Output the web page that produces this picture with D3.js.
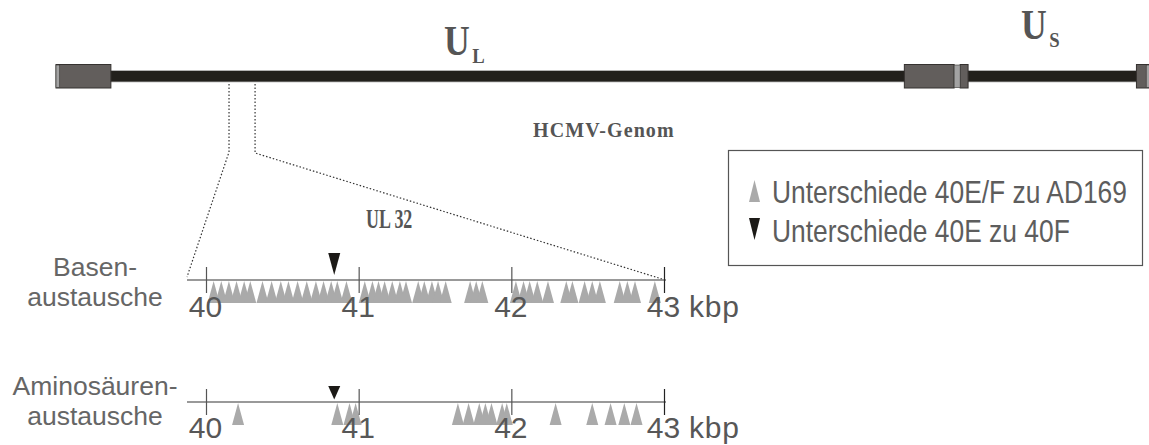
<!DOCTYPE html>
<html><head><meta charset="utf-8">
<script src="https://cdn.jsdelivr.net/npm/d3@7/dist/d3.min.js"></script>
<style>
html,body{margin:0;padding:0;background:#fff;}
svg{display:block;}
</style></head>
<body>
<svg id="chart" width="1149" height="445"></svg>
<script>
// ---------- DATA ----------
// schematic genome regions (approx. kbp along the HCMV genome)
const genomeRepeats = [
  {name: "TRL", from: 0, to: 11.8},
  {name: "IRL", from: 182.4, to: 193.1},
  {name: "IRS", from: 194.4, to: 196.1},
  {name: "TRS", from: 232.3, to: 235.5}
];
const genomeAseq = [
  {from: 0, to: 0.8},
  {from: 193.1, to: 194.4},
  {from: 234.4, to: 235.5}
];
const genomeUnique = [
  {name: "L", from: 11.8, to: 182.4},
  {name: "S", from: 196.1, to: 232.3}
];
const genomeLength = 235;
const zoomWindowGenome = [37.2, 42.8];   // where the UL32 window sits on the genome map

const kbpTicks = [40, 41, 42, 43];
// positions (kbp) of differences 40E/F vs AD169
const baseChanges = [40.05, 40.10, 40.15, 40.20, 40.25, 40.29, 40.37, 40.43, 40.49, 40.54,
  40.60, 40.66, 40.72, 40.77, 40.82, 40.86, 40.92, 41.04, 41.09, 41.13, 41.17, 41.22, 41.27,
  41.31, 41.39, 41.43, 41.48, 41.52, 41.57, 41.73, 41.77, 41.81, 42.03, 42.08, 42.12, 42.17,
  42.24, 42.36, 42.40, 42.48, 42.53, 42.58, 42.71, 42.76, 42.81, 42.94];
const aminoChanges = [40.21, 40.86, 40.94, 40.98, 41.65, 41.72, 41.79, 41.83, 41.87, 41.94,
  41.97, 42.29, 42.53, 42.65, 42.74, 42.82];
// differences 40E vs 40F
const baseDiffEF = [40.84];
const aminoDiffEF = [40.84];

const rowLabels = [["Basen-", "austausche"], ["Aminosäuren-", "austausche"]];
const legendLabels = ["Unterschiede 40E/F zu AD169", "Unterschiede 40E zu 40F"];

// ---------- DRAW ----------
const svg = d3.select("#chart");
const grey = "#aaaaaa", black = "#1c1a17", textGrey = "#575757";

// genome map
const g = d3.scaleLinear().domain([0, genomeLength]).range([56, 1149]);
const gm = svg.append("g");
genomeUnique.forEach(u => {
  gm.append("rect").attr("x", g(u.from) - 1).attr("y", 70.5)
    .attr("width", g(u.to) - g(u.from) + 2).attr("height", 11.5)
    .attr("fill", "#22201c");
  gm.append("line").attr("x1", g(u.from)).attr("x2", g(u.to))
    .attr("y1", 70.5).attr("y2", 70.5).attr("stroke", "#bdbdbd").attr("stroke-width", 0.8);
  gm.append("line").attr("x1", g(u.from)).attr("x2", g(u.to))
    .attr("y1", 82).attr("y2", 82).attr("stroke", "#bdbdbd").attr("stroke-width", 0.8);
});
genomeRepeats.forEach(r => {
  gm.append("rect").attr("x", g(r.from)).attr("y", 64.5)
    .attr("width", g(r.to) - g(r.from)).attr("height", 23.5)
    .attr("fill", "#625e5c").attr("stroke", "#353230").attr("stroke-width", 1);
});
genomeAseq.forEach(a => {
  gm.append("rect").attr("x", g(a.from)).attr("y", 65)
    .attr("width", g(a.to) - g(a.from)).attr("height", 22.5)
    .attr("fill", "#a3a3a3").attr("stroke", "#353230").attr("stroke-width", 0.6);
});

// region labels
function regionLabel(x, y, main, sub) {
  const t = svg.append("text").attr("transform", `translate(${x},${y}) scale(0.85,1)`)
    .attr("font-family", "Liberation Serif, Times New Roman, serif")
    .attr("font-weight", "bold").attr("fill", "#555555");
  t.append("tspan").attr("font-size", 42).text(main);
  t.append("tspan").attr("font-size", 22).attr("dy", 8).attr("dx", 3).text(sub);
}
regionLabel(444, 55, "U", "L");
regionLabel(1021, 39, "U", "S");

svg.append("text").attr("x", 533).attr("y", 137)
  .attr("font-family", "Liberation Serif, Times New Roman, serif")
  .attr("font-weight", "bold").attr("font-size", 20).attr("letter-spacing", 1.1)
  .attr("fill", "#555").text("HCMV-Genom");

svg.append("text").attr("transform", "translate(366,228) scale(0.64,1)")
  .attr("font-family", "Liberation Serif, Times New Roman, serif")
  .attr("font-weight", "bold").attr("font-size", 28)
  .attr("fill", "#555").text("UL 32");

// zoom axes
const x = d3.scaleLinear().domain([40, 43]).range([206, 664]);
const rows = [
  {axisY: 280, labelY: 317, values: baseChanges, diff: baseDiffEF, diffTop: 253, diffH: 22, labelBase: 276},
  {axisY: 402, labelY: 438, values: aminoChanges, diff: aminoDiffEF, diffTop: 386, diffH: 13.5, labelBase: 395}
];

// dotted zoom connectors
const lineStyle = sel => sel.attr("fill", "none").attr("stroke", "#333")
  .attr("stroke-width", 1.2).attr("stroke-dasharray", "1.5,2");
svg.append("path").call(lineStyle)
  .attr("d", d3.line()([[g(zoomWindowGenome[0]), 84], [g(zoomWindowGenome[0]), 152], [187, 277]]));
svg.append("path").call(lineStyle)
  .attr("d", d3.line()([[g(zoomWindowGenome[1]), 84], [g(zoomWindowGenome[1]), 153], [x(43) - 2, 279]]));

rows.forEach((r, i) => {
  const row = svg.append("g");
  // base line
  row.append("line").attr("x1", 187).attr("x2", 666).attr("y1", r.axisY).attr("y2", r.axisY)
    .attr("stroke", "#777").attr("stroke-width", 1.6);
  // grey triangles (pointing up, apex on the axis)
  row.selectAll("path.up").data(r.values).join("path")
    .attr("class", "up")
    .attr("d", d => `M${x(d)},${r.axisY + 1}L${x(d) + 6},${r.axisY + 23}L${x(d) - 6},${r.axisY + 23}Z`)
    .attr("fill", grey);
  // black triangles (pointing down)
  row.selectAll("path.down").data(r.diff).join("path")
    .attr("class", "down")
    .attr("d", d => `M${x(d) - 6},${r.diffTop}L${x(d) + 6},${r.diffTop}L${x(d)},${r.diffTop + r.diffH}Z`)
    .attr("fill", black);
  // axis via d3
  const ax = row.append("g").attr("transform", `translate(0,${r.axisY})`)
    .call(d3.axisBottom(x).tickValues(kbpTicks).tickSize(0).tickFormat(d3.format("d")));
  ax.select(".domain").remove();
  ax.selectAll(".tick line").attr("y1", -13).attr("y2", 13)
    .attr("stroke", (d) => d === 43 ? "#222" : "#555").attr("stroke-width", 1.2);
  ax.selectAll(".tick text").attr("y", r.labelY - r.axisY).attr("dy", 0)
    .attr("font-family", "Liberation Sans, Arial, sans-serif").attr("font-size", 30)
    .attr("fill", textGrey).attr("dx", -1);
  row.append("text").attr("x", x(43) + 25).attr("y", r.labelY)
    .attr("font-family", "Liberation Sans, Arial, sans-serif").attr("font-size", 30)
    .attr("fill", textGrey).attr("letter-spacing", 0.8).text("kbp");
  // row label
  rowLabels[i].forEach((t, j) => {
    row.append("text").attr("x", 95).attr("y", r.labelBase + j * 29.5)
      .attr("text-anchor", "middle")
      .attr("font-family", "Liberation Sans, Arial, sans-serif").attr("font-size", 26.5)
      .attr("fill", "#666").text(t);
  });
});

// legend
const lg = svg.append("g");
lg.append("rect").attr("x", 728.5).attr("y", 150.5).attr("width", 414).attr("height", 115)
  .attr("fill", "none").attr("stroke", "#555").attr("stroke-width", 1.2);
lg.append("path").attr("d", "M754.5,180L760,202L749,202Z").attr("fill", grey);
lg.append("path").attr("d", "M749,218L760,218L754.5,240Z").attr("fill", black);
[202.5, 241.5].forEach((y, i) => {
  lg.append("text").attr("transform", `translate(772,${y}) scale(1,1.17)`)
    .attr("font-family", "Liberation Sans, Arial, sans-serif").attr("font-size", 26.4)
    .attr("fill", "#5d5d5d").text(legendLabels[i]);
});
</script>
</body></html>
